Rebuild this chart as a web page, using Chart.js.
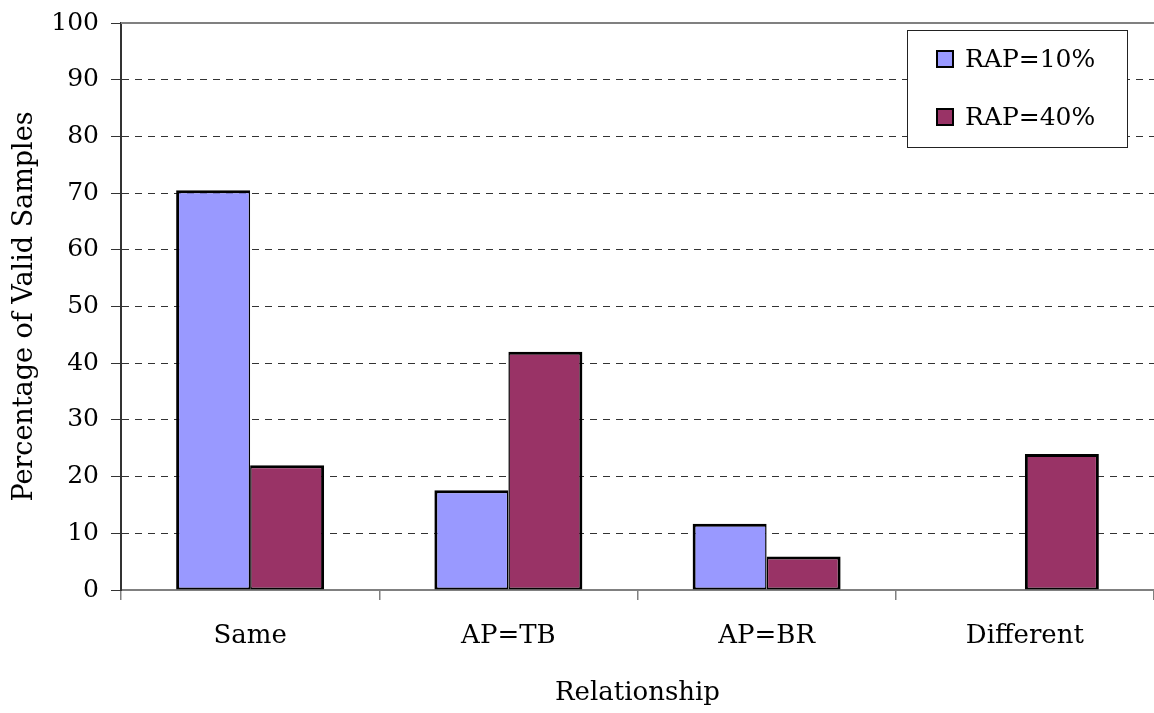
<!DOCTYPE html>
<html>
<head>
<meta charset="utf-8">
<script src="https://cdn.jsdelivr.net/npm/chart.js@4/dist/chart.umd.min.js"></script>
<style>
html,body{margin:0;padding:0;background:#fff;}
#wrap{width:1154px;height:713px;position:relative;}
</style>
</head>
<body>
<div id="wrap"><canvas id="c" width="1154" height="713"></canvas></div>
<script>
const categories = ["Same", "AP=TB", "AP=BR", "Different"];
const seriesNames = ["RAP=10%", "RAP=40%"];
const rap10 = [70.5, 17.6, 11.7, 0];
const rap40 = [22.0, 42.0, 5.9, 24.0];
const yTicks = [0, 10, 20, 30, 40, 50, 60, 70, 80, 90, 100];
const xTitle = "Relationship";
const yTitle = "Percentage of Valid Samples";

const FONT = "'DejaVu Serif', serif";

const boxLegend = {
  id: 'boxLegend',
  afterDraw(chart) {
    const ctx = chart.ctx;
    const x0 = 907, y0 = 30, w = 220, h = 117;
    ctx.save();
    ctx.fillStyle = '#fff';
    ctx.fillRect(x0, y0, w, h);
    ctx.strokeStyle = '#222';
    ctx.lineWidth = 1;
    ctx.strokeRect(x0 + 0.5, y0 + 0.5, w, h);
    chart.data.datasets.forEach((ds, i) => {
      const cy = 59 + i * 58;
      ctx.fillStyle = ds.backgroundColor;
      ctx.fillRect(937, cy - 8, 16, 16);
      ctx.strokeStyle = '#000';
      ctx.lineWidth = 2;
      ctx.strokeRect(937, cy - 8, 16, 16);
      ctx.fillStyle = '#000';
      ctx.font = '25px ' + FONT;
      ctx.textBaseline = 'middle';
      ctx.textAlign = 'left';
      ctx.fillText(ds.label, 965, cy + 1);
    });
    ctx.restore();
  }
};

const topLine = {
  id: 'topLine',
  afterDatasetsDraw(chart) {
    const a = chart.chartArea, ctx = chart.ctx;
    ctx.save();
    ctx.strokeStyle = '#808080';
    ctx.lineWidth = 2;
    ctx.beginPath();
    ctx.moveTo(a.left, a.top);
    ctx.lineTo(a.right, a.top);
    ctx.stroke();
    ctx.restore();
  }
};

function bw10(c) {
  const i = c.dataIndex;
  return { top: 3, bottom: 2, left: 3, right: (rap40[i] > 0 ? 1.5 : 3) };
}
function bw40(c) {
  const i = c.dataIndex;
  return { top: 3, bottom: 2, right: 3, left: (rap10[i] > 0 ? 1.5 : 3) };
}

new Chart(document.getElementById('c'), {
  type: 'bar',
  data: {
    labels: categories,
    datasets: [
      { label: seriesNames[0], data: rap10, backgroundColor: '#9999FF', borderColor: '#000', borderWidth: bw10, borderSkipped: false, categoryPercentage: 0.573, barPercentage: 1.0 },
      { label: seriesNames[1], data: rap40, backgroundColor: '#993366', borderColor: '#000', borderWidth: bw40, borderSkipped: false, categoryPercentage: 0.573, barPercentage: 1.0 }
    ]
  },
  options: {
    responsive: false,
    animation: false,
    devicePixelRatio: 1,
    layout: { padding: { top: 23, right: 0, left: 0, bottom: 0 } },
    plugins: { legend: { display: false }, tooltip: { enabled: false } },
    scales: {
      x: {
        grid: { display: true, drawOnChartArea: false, drawTicks: true, tickLength: 10, color: '#808080', lineWidth: 1.5, offset: true },
        border: { display: true, color: '#808080', width: 2 },
        ticks: { color: '#000', font: { family: FONT, size: 26 }, padding: 21 },
        title: { display: true, text: xTitle, color: '#000', font: { family: FONT, size: 26 }, padding: { top: 0, bottom: 4 } },
        afterFit(s) { s.height = 123; s.paddingLeft = 0; s.paddingRight = 0; }
      },
      y: {
        min: 0, max: 100,
        afterBuildTicks(s) { s.ticks = yTicks.map(v => ({ value: v })); },
        grid: { color: '#333', lineWidth: 1, tickLength: 10, tickColor: '#333', tickBorderDash: [] },
        border: { display: true, color: '#333', width: 2, dash: [7, 6] },
        ticks: { color: '#000', font: { family: FONT, size: 25 }, padding: 12 },
        title: { display: true, text: yTitle, color: '#000', font: { family: FONT, size: 27 }, padding: { top: 9, bottom: 0 } },
        afterFit(s) { s.width = 121; s.paddingTop = 0; s.paddingBottom = 0; }
      }
    }
  },
  plugins: [topLine, boxLegend]
});
</script>
</body>
</html>
